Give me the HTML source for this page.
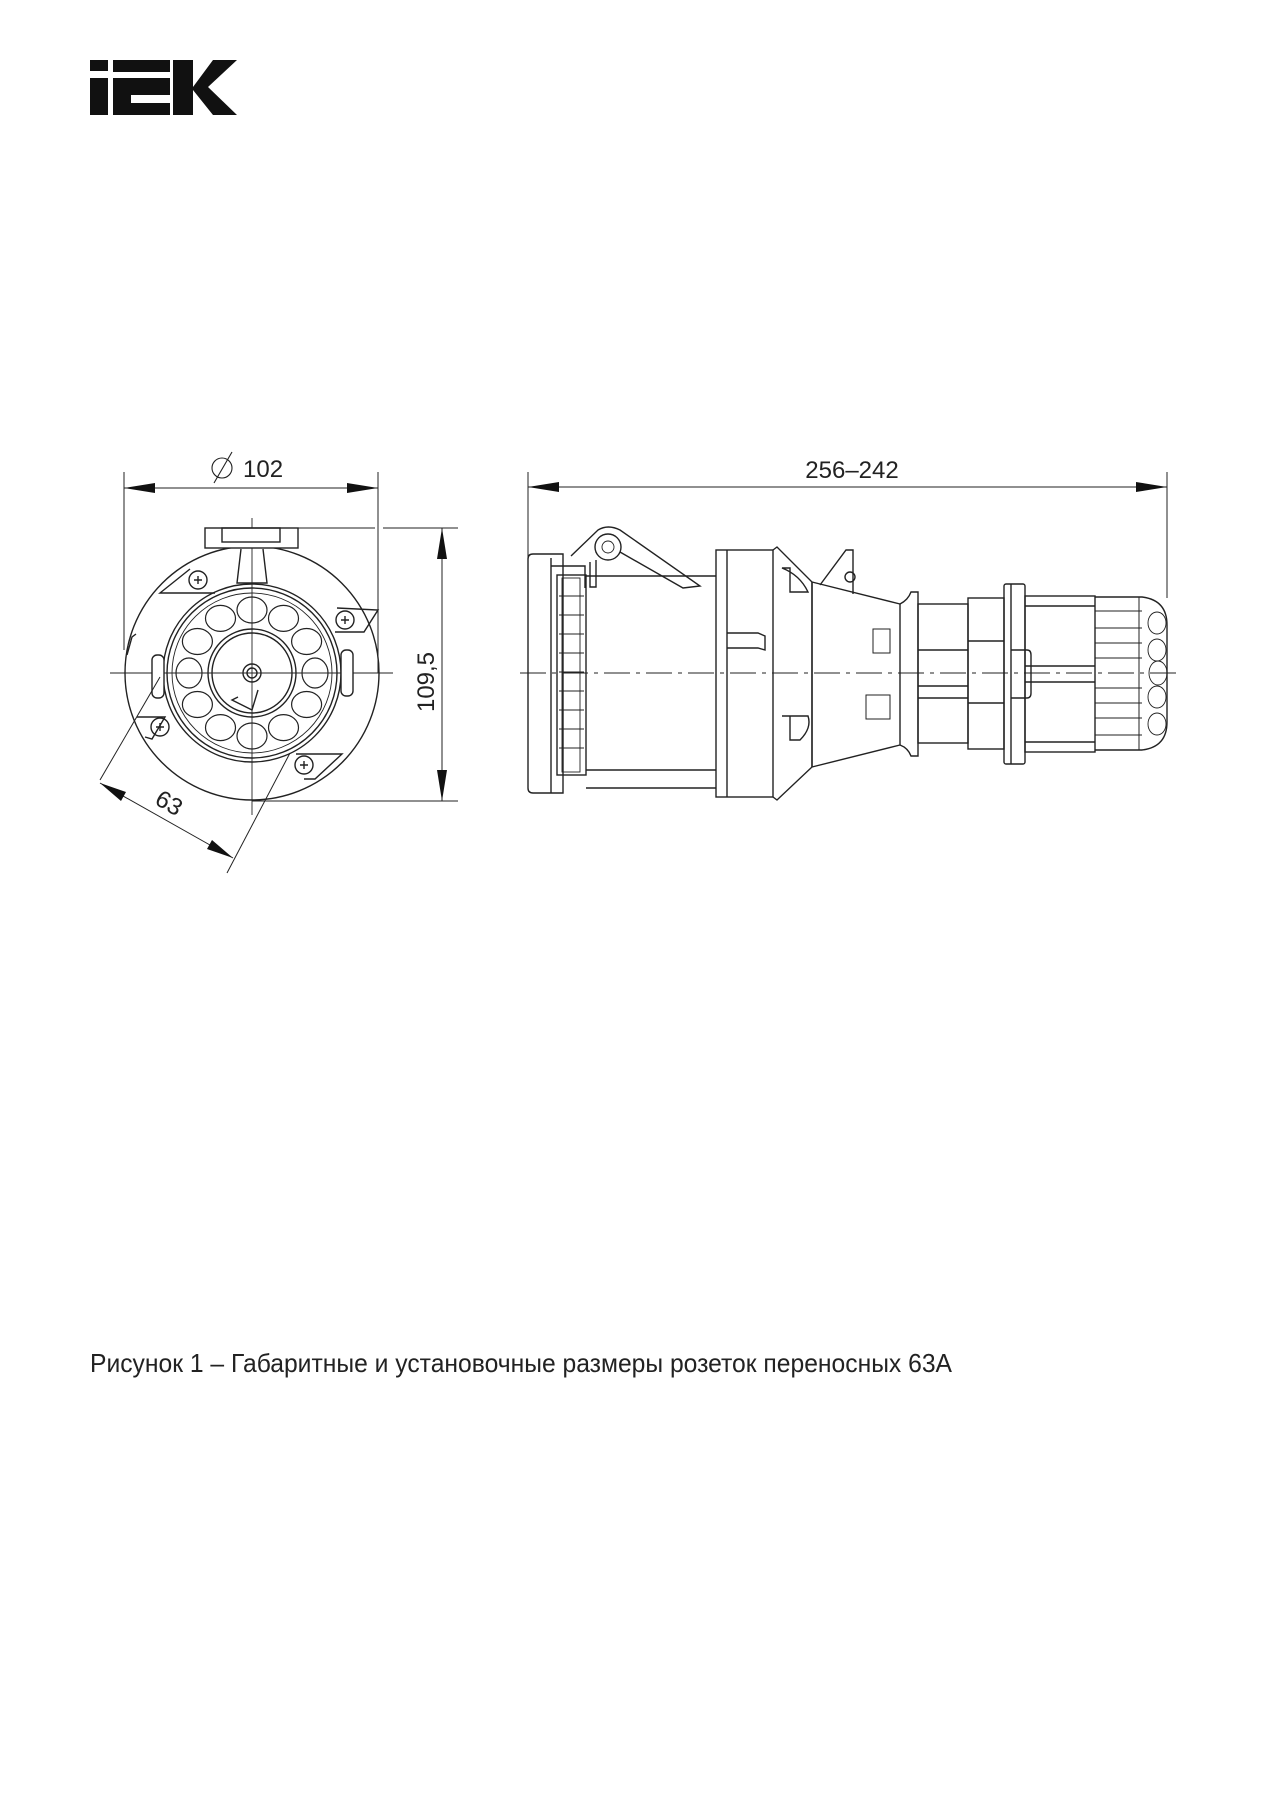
<!DOCTYPE html>
<html><head><meta charset="utf-8"><style>
html,body{margin:0;padding:0;background:#fff;}
svg{display:block;}
</style></head><body>
<svg width="1280" height="1794" viewBox="0 0 1280 1794" xmlns="http://www.w3.org/2000/svg">
<rect width="1280" height="1794" fill="#fff"/>
<g fill="#111">
<rect x="90" y="60" width="18" height="11"/>
<rect x="90" y="78" width="18" height="37"/>
<rect x="113" y="60" width="57" height="12"/>
<path d="M113 78 H170 V95 H131 V103 H170 V115 H113 Z"/>
<rect x="173" y="60" width="20" height="55"/>
<path d="M193 87 L213 60 H237 L208 87 L237 115 H213 L193 90 Z"/>
</g>

<g fill="none" stroke="#222" stroke-width="1.4">
<line x1="110" y1="673" x2="393" y2="673" stroke-width="0.9"/>
<line x1="252" y1="518" x2="252" y2="815" stroke-width="0.9"/>
<circle cx="252" cy="673" r="127"/>
<rect x="205" y="528" width="93" height="20" fill="#fff"/>
<rect x="222" y="528" width="58" height="14"/>
<path d="M241 549 L237 583 H267 L263 549"/>
<circle cx="252" cy="673" r="89"/>
<circle cx="252" cy="673" r="85"/>
<circle cx="252" cy="673" r="80" stroke-width="0.9"/>
<circle cx="252" cy="673" r="44"/>
<circle cx="252" cy="673" r="40"/>
<circle cx="252" cy="673" r="9"/>
<circle cx="252" cy="673" r="5"/>
<path d="M238 697 L232 700 L252 710 L258 690"/>
<g stroke-width="1.2">
<ellipse cx="252" cy="610" rx="15" ry="13"/>
<ellipse cx="283.5" cy="618.4" rx="15" ry="13"/>
<ellipse cx="306.6" cy="641.5" rx="15" ry="13"/>
<ellipse cx="315" cy="673" rx="13" ry="15"/>
<ellipse cx="306.6" cy="704.5" rx="15" ry="13"/>
<ellipse cx="283.5" cy="727.6" rx="15" ry="13"/>
<ellipse cx="252" cy="736" rx="15" ry="13"/>
<ellipse cx="220.5" cy="727.6" rx="15" ry="13"/>
<ellipse cx="197.4" cy="704.5" rx="15" ry="13"/>
<ellipse cx="189" cy="673" rx="13" ry="15"/>
<ellipse cx="197.4" cy="641.5" rx="15" ry="13"/>
<ellipse cx="220.5" cy="618.4" rx="15" ry="13"/>
</g>
<path d="M190 569 L160 593 H215"/><circle cx="198" cy="580" r="9"/><path d="M194 580h8M198 576v8"/>
<path d="M337 608 L378 610 L364 632 H335"/><circle cx="345" cy="620" r="9"/><path d="M341 620h8M345 616v8"/>
<path d="M137 717 H165 L152 739 L145 737"/><circle cx="160" cy="727" r="9"/><path d="M156 727h8M160 723v8"/>
<path d="M296 754 H342 L315 779 H304"/><circle cx="304" cy="765" r="9"/><path d="M300 765h8M304 761v8"/>
<rect x="152" y="655" width="12" height="43" rx="5" fill="#fff"/>
<rect x="341" y="650" width="12" height="46" rx="5" fill="#fff"/>
<path d="M127 655 L132 637 L136 634"/>
<line x1="124" y1="472" x2="124" y2="650" stroke-width="1"/>
<line x1="378" y1="472" x2="378" y2="673" stroke-width="1"/>
<line x1="124" y1="488" x2="378" y2="488" stroke-width="1"/>
<circle cx="222" cy="468" r="10" stroke-width="1.1"/>
<line x1="214" y1="483" x2="232" y2="452" stroke-width="1.1"/>
<line x1="298" y1="528" x2="375" y2="528" stroke-width="1"/>
<line x1="383" y1="528" x2="458" y2="528" stroke-width="1"/>
<line x1="252" y1="801" x2="458" y2="801" stroke-width="1"/>
<line x1="442" y1="528" x2="442" y2="801" stroke-width="1"/>
<line x1="160" y1="677" x2="100" y2="780" stroke-width="1"/>
<line x1="290" y1="753" x2="227" y2="873" stroke-width="1"/>
<line x1="100" y1="783" x2="233" y2="858" stroke-width="1"/>

<line x1="520" y1="673" x2="1180" y2="673" stroke-dasharray="26 6 4 6" stroke-width="0.9"/>
<line x1="528" y1="472" x2="528" y2="673" stroke-width="1"/>
<line x1="1167" y1="472" x2="1167" y2="598" stroke-width="1"/>
<line x1="528" y1="487" x2="1167" y2="487" stroke-width="1"/>
<path d="M533 554 H563 V793 H533 Q528 793 528 788 V559 Q528 554 533 554 Z"/>
<line x1="551" y1="558" x2="551" y2="793"/>
<path d="M551 566 H585 V588"/>
<rect x="557" y="575" width="29" height="200"/>
<rect x="562" y="578" width="18" height="194" stroke-width="0.9"/>
<g stroke-width="1">
<line x1="559" y1="596" x2="584" y2="596"/><line x1="559" y1="615" x2="584" y2="615"/>
<line x1="559" y1="634" x2="584" y2="634"/><line x1="559" y1="653" x2="584" y2="653"/>
<line x1="559" y1="672" x2="584" y2="672"/><line x1="559" y1="691" x2="584" y2="691"/>
<line x1="559" y1="710" x2="584" y2="710"/><line x1="559" y1="729" x2="584" y2="729"/>
<line x1="559" y1="748" x2="584" y2="748"/>
</g>
<path d="M571 556 L598 530 Q608 524 620 530 L700 586 L683 588 L620 552"/>
<circle cx="608" cy="547" r="13" fill="#fff"/>
<circle cx="608" cy="547" r="6" stroke-width="0.9"/>
<path d="M590 562 V587 H596 V560"/>
<line x1="586" y1="576" x2="716" y2="576"/>
<line x1="586" y1="770" x2="716" y2="770"/>
<line x1="586" y1="788" x2="716" y2="788"/>
<rect x="716" y="550" width="57" height="247"/>
<line x1="727" y1="550" x2="727" y2="797"/>
<path d="M727 633 H758 L765 636 V650 L758 648 H727"/>
<path d="M773 550 L777 547 L812 582 V767 L777 800 L773 797"/>
<line x1="812" y1="582" x2="812" y2="767"/>
<path d="M812 582 L900 604 M812 767 L900 745"/>
<line x1="900" y1="604" x2="900" y2="745"/>
<path d="M782 568 H790 V592 H808 Q800 575 782 568 Z"/>
<path d="M782 716 H790 V740 H800 Q812 728 808 716 Z"/>
<path d="M820 585 L846 550 H853 V594"/>
<circle cx="850" cy="577" r="5"/>
<rect x="873" y="629" width="17" height="24" stroke-width="1"/>
<rect x="866" y="695" width="24" height="24" stroke-width="1"/>
<path d="M900 604 Q908 600 911 592 H918 V756 H911 Q908 748 900 745"/>
<rect x="918" y="604" width="50" height="139"/>
<line x1="918" y1="650" x2="968" y2="650"/><line x1="918" y1="686" x2="968" y2="686"/>
<line x1="918" y1="698" x2="968" y2="698"/>
<rect x="968" y="598" width="36" height="151"/>
<line x1="968" y1="641" x2="1004" y2="641"/><line x1="968" y1="703" x2="1004" y2="703"/>
<rect x="1004" y="584" width="21" height="180" rx="2"/>
<line x1="1011" y1="584" x2="1011" y2="764"/>
<path d="M1011 650 H1027 Q1031 650 1031 655 V693 Q1031 698 1027 698 H1011"/>
<rect x="1025" y="596" width="70" height="156"/>
<line x1="1025" y1="606" x2="1095" y2="606"/><line x1="1025" y1="666" x2="1095" y2="666"/>
<line x1="1025" y1="682" x2="1095" y2="682"/><line x1="1025" y1="742" x2="1095" y2="742"/>
<path d="M1095 597 H1142 Q1167 600 1167 625 V722 Q1167 747 1142 750 H1095"/>
<line x1="1139" y1="597" x2="1139" y2="750" stroke-width="1"/>
<g stroke-width="0.9">
<line x1="1095" y1="611" x2="1142" y2="611"/><line x1="1095" y1="628" x2="1142" y2="628"/>
<line x1="1095" y1="643" x2="1142" y2="643"/><line x1="1095" y1="658" x2="1142" y2="658"/>
<line x1="1095" y1="688" x2="1142" y2="688"/><line x1="1095" y1="703" x2="1142" y2="703"/>
<line x1="1095" y1="718" x2="1142" y2="718"/><line x1="1095" y1="735" x2="1142" y2="735"/>
<ellipse cx="1157" cy="623" rx="9" ry="11"/><ellipse cx="1157" cy="650" rx="9" ry="11"/>
<ellipse cx="1158" cy="673" rx="9" ry="12"/><ellipse cx="1157" cy="697" rx="9" ry="11"/>
<ellipse cx="1157" cy="724" rx="9" ry="11"/>
</g>
</g>

<g fill="#111">
<path d="M124 488 L155 483 L155 493 Z"/>
<path d="M378 488 L347 483 L347 493 Z"/>
<path d="M442 528 L437 559 L447 559 Z"/>
<path d="M442 801 L437 770 L447 770 Z"/>
<path d="M100 783 L126 792 L121 801 Z"/>
<path d="M233 858 L207 849 L212 840 Z"/>
<path d="M528 487 L559 482 L559 492 Z"/>
<path d="M1167 487 L1136 482 L1136 492 Z"/>
</g>

<g font-family="Liberation Sans, sans-serif" fill="#222">
<text x="243" y="477" font-size="24">102</text>
<text x="852" y="478" font-size="24" text-anchor="middle">256–242</text>
<text transform="translate(434,682) rotate(-90)" font-size="24" text-anchor="middle">109,5</text>
<text transform="translate(165,810) rotate(30)" font-size="24" text-anchor="middle">63</text>
<text x="90" y="1372" font-size="26" textLength="862" lengthAdjust="spacingAndGlyphs">Рисунок 1 – Габаритные и установочные размеры розеток переносных 63А</text>
</g>
</svg>
</body></html>
